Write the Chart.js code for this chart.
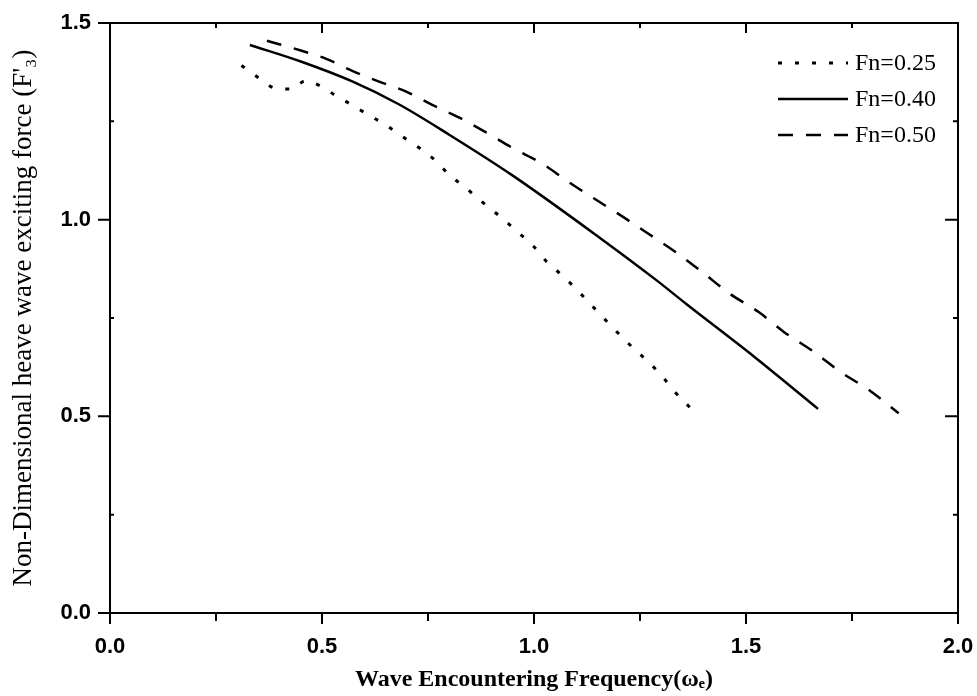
<!DOCTYPE html>
<html>
<head>
<meta charset="utf-8">
<script src="https://cdn.jsdelivr.net/npm/chart.js@4.4.1/dist/chart.umd.min.js"></script>
<style>
  html, body { margin: 0; padding: 0; background: #ffffff; }
  #wrap { width: 977px; height: 696px; }
</style>
</head>
<body>
<div id="wrap"><canvas id="c" width="977" height="696"></canvas></div>
<script>
// ---- data ----
const seriesLabels = ["Fn=0.25", "Fn=0.40", "Fn=0.50"];

const fn025X = [0.31, 0.35, 0.39, 0.43, 0.46, 0.50, 0.53, 0.57, 0.61, 0.65, 0.69, 0.73, 0.77, 0.80, 0.84, 0.88, 0.92, 0.96, 1.00, 1.03, 1.07, 1.22, 1.26, 1.30, 1.33, 1.37];
const fn025Y = [1.392, 1.361, 1.334, 1.332, 1.353, 1.338, 1.317, 1.292, 1.266, 1.241, 1.211, 1.182, 1.148, 1.114, 1.080, 1.043, 1.008, 0.970, 0.931, 0.893, 0.855, 0.688, 0.648, 0.605, 0.565, 0.520];

const fn040X = [0.33, 0.45, 0.57, 0.68, 0.80, 0.95, 1.15, 1.29, 1.36, 1.52, 1.67];
const fn040Y = [1.444, 1.402, 1.352, 1.294, 1.216, 1.112, 0.958, 0.845, 0.785, 0.651, 0.519];

const fn050X = [0.37, 0.45, 0.51, 0.57, 0.63, 0.70, 0.76, 0.83, 0.89, 0.95, 1.02, 1.08, 1.14, 1.21, 1.27, 1.34, 1.40, 1.46, 1.53, 1.59, 1.66, 1.72, 1.79, 1.86];
const fn050Y = [1.455, 1.430, 1.409, 1.379, 1.353, 1.325, 1.292, 1.256, 1.220, 1.182, 1.142, 1.097, 1.055, 1.007, 0.964, 0.913, 0.864, 0.813, 0.765, 0.714, 0.664, 0.615, 0.567, 0.508];

const xTickLabels = ["0.0", "0.5", "1.0", "1.5", "2.0"];
const yTickLabels = ["0.0", "0.5", "1.0", "1.5"];
const xTitle = "Wave Encountering Frequency(\u03C9\u2091)";
const yTitle = "Non-Dimensional heave wave exciting force (F'\u2083)";

// ---- build ----
function pts(xs, ys) { return xs.map((x, i) => ({ x: x, y: ys[i] })); }

const datasets = [
  { label: seriesLabels[0], data: pts(fn025X, fn025Y), borderColor: "#000", borderWidth: 3, borderDash: [4, 13], borderCapStyle: "butt" },
  { label: seriesLabels[1], data: pts(fn040X, fn040Y), borderColor: "#000", borderWidth: 2.5, borderDash: [] },
  { label: seriesLabels[2], data: pts(fn050X, fn050Y), borderColor: "#000", borderWidth: 2.5, borderDash: [15, 13], borderCapStyle: "butt" }
];
datasets.forEach(d => { d.pointRadius = 0; d.cubicInterpolationMode = "monotone"; d.fill = false; });

const framePlugin = {
  id: "frameTicks",
  afterDatasetsDraw(chart) {
    const ctx = chart.ctx, a = chart.chartArea;
    const xs = chart.scales.x, ys = chart.scales.y;
    ctx.save();
    ctx.strokeStyle = "#000";
    ctx.lineWidth = 2;
    ctx.strokeRect(a.left, a.top, a.right - a.left, a.bottom - a.top);
    ctx.lineWidth = 2;
    for (let k = 0; k <= 8; k++) {
      const v = k * 0.25, px = xs.getPixelForValue(v), major = k % 2 === 0;
      ctx.beginPath();
      ctx.moveTo(px, a.bottom); ctx.lineTo(px, a.bottom + (major ? 11 : 8));
      ctx.moveTo(px, a.top); ctx.lineTo(px, a.top + (major ? 10 : 5));
      ctx.stroke();
    }
    for (let k = 0; k <= 6; k++) {
      const v = k * 0.25, py = ys.getPixelForValue(v), major = k % 2 === 0;
      ctx.beginPath();
      if (major) { ctx.moveTo(a.left, py); ctx.lineTo(a.left - 12, py); }
      else { ctx.moveTo(a.left, py); ctx.lineTo(a.left + 4, py); }
      ctx.moveTo(a.right, py); ctx.lineTo(a.right - (major ? 13 : 5), py);
      ctx.stroke();
    }
    // legend
    ctx.font = "24px 'Liberation Serif', 'Times New Roman', serif";
    ctx.textBaseline = "middle";
    ctx.textAlign = "left";
    ctx.fillStyle = "#000";
    chart.data.datasets.forEach((d, i) => {
      const y = 63 + 36 * i;
      ctx.save();
      ctx.lineWidth = d.borderWidth;
      ctx.setLineDash(d.borderDash || []);
      ctx.lineCap = "butt";
      ctx.beginPath();
      ctx.moveTo(778, y); ctx.lineTo(848, y);
      ctx.stroke();
      ctx.restore();
      ctx.fillText(d.label, 855, y + 1);
    });
    ctx.restore();
  }
};

new Chart(document.getElementById("c"), {
  type: "line",
  data: { datasets: datasets },
  plugins: [framePlugin],
  options: {
    responsive: false,
    animation: false,
    layout: { padding: { top: 23, right: 19, left: 0, bottom: 0 } },
    plugins: { legend: { display: false }, tooltip: { enabled: false } },
    scales: {
      x: {
        type: "linear", min: 0, max: 2,
        afterBuildTicks(s) { s.ticks = xTickLabels.map((t, i) => ({ value: i * 0.5 })); },
        ticks: { callback: (v, i) => xTickLabels[i], color: "#000", padding: 21, maxRotation: 0,
                 font: { family: "'Liberation Sans', Arial, sans-serif", size: 22, weight: "bold" } },
        grid: { display: false, drawTicks: false },
        border: { display: false },
        afterFit(s) { s.height = 83; s.paddingLeft = 0; s.paddingRight = 0; },
        title: { display: true, text: xTitle, color: "#000", padding: { top: 0, bottom: 2 },
                 font: { family: "'Liberation Serif', 'Times New Roman', serif", size: 24, weight: "bold" } }
      },
      y: {
        type: "linear", min: 0, max: 1.5,
        afterBuildTicks(s) { s.ticks = yTickLabels.map((t, i) => ({ value: i * 0.5 })); },
        ticks: { callback: (v, i) => yTickLabels[i], color: "#000", padding: 19,
                 font: { family: "'Liberation Sans', Arial, sans-serif", size: 22, weight: "bold" } },
        grid: { display: false, drawTicks: false },
        border: { display: false },
        afterFit(s) { s.width = 110; s.paddingTop = 0; s.paddingBottom = 0; },
        title: { display: true, text: yTitle, color: "#000", padding: { top: 8, bottom: 0 },
                 font: { family: "'Liberation Serif', 'Times New Roman', serif", size: 27 } }
      }
    }
  }
});
</script>
</body>
</html>
